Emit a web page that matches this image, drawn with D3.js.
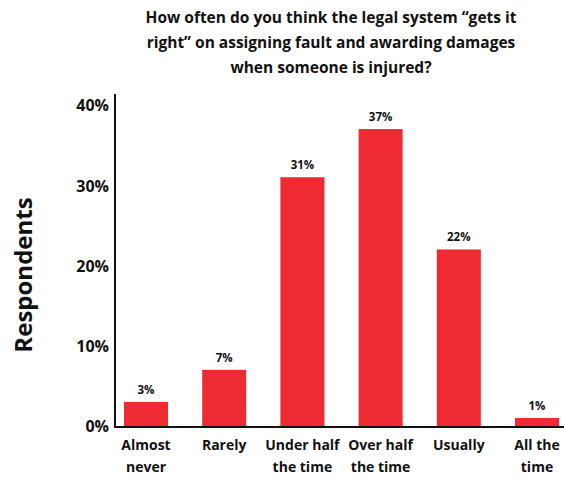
<!DOCTYPE html>
<html>
<head>
<meta charset="utf-8">
<script src="https://cdn.jsdelivr.net/npm/d3@7"></script>
<style>
  html, body { margin: 0; padding: 0; background: #fff; }
  svg { display: block; font-family: "Open Sans", Lato, sans-serif; }
</style>
</head>
<body>
<svg id="chart" width="564" height="477"></svg>
<script>
// Survey answers and share of respondents (%)
const categories = [["Almost", "never"], ["Rarely"], ["Under half", "the time"], ["Over half", "the time"], ["Usually"], ["All the", "time"]];
const values = [3, 7, 31, 37, 22, 1];
const yTicks = [0, 10, 20, 30, 40];
const titleLines = [
  "How often do you think the legal system \u201cgets it",
  "right\u201d on assigning fault and awarding damages",
  "when someone is injured?"
];
const yLabel = "Respondents";

const svg = d3.select("#chart");
const ink = "#111";
const red = "#ee2a33";
const font = "'Open Sans', Lato, sans-serif";

const x = d3.scaleBand()
  .domain(categories.map((d, i) => i))
  .range([115, 568])
  .paddingInner(0.437)
  .paddingOuter(0.115);

const y = d3.scaleLinear().domain([0, 40]).range([426, 105]);

// Title
svg.append("text")
  .attr("x", 331)
  .attr("y", 23)
  .attr("text-anchor", "middle")
  .attr("fill", ink)
  .style("font-size", "15.5px")
  .style("font-weight", 700)
  .selectAll("tspan")
  .data(titleLines)
  .join("tspan")
  .attr("x", 331)
  .attr("dy", (d, i) => i === 0 ? 0 : 25)
  .text(d => d);

// Y axis label
svg.append("text")
  .attr("transform", "translate(32,275) rotate(-90)")
  .attr("text-anchor", "middle")
  .attr("fill", ink)
  .style("font-size", "24px")
  .style("font-weight", 700)
  .text(yLabel);

// Bars
svg.append("g")
  .selectAll("rect")
  .data(values)
  .join("rect")
  .attr("x", (d, i) => x(i))
  .attr("width", x.bandwidth())
  .attr("y", d => y(d))
  .attr("height", d => y(0) - y(d))
  .attr("fill", red);

// Value labels
svg.append("g")
  .selectAll("text")
  .data(values)
  .join("text")
  .attr("x", (d, i) => x(i) + x.bandwidth() / 2)
  .attr("y", d => y(d) - 8)
  .attr("text-anchor", "middle")
  .attr("fill", ink)
  .style("font-size", "11.5px")
  .style("font-weight", 700)
  .text(d => d + "%");

// Y axis
const yAxis = svg.append("g")
  .attr("transform", "translate(115,0)")
  .call(d3.axisLeft(y).tickValues(yTicks).tickSize(0).tickPadding(6).tickFormat(d => d + "%"));
yAxis.select(".domain").attr("stroke", ink).attr("stroke-width", 2).attr("d", "M0,94V427");
yAxis.selectAll("text")
  .attr("fill", ink)
  .attr("dy", "0.36em")
  .style("font-family", font)
  .style("font-size", "16px")
  .style("font-weight", 700);

// X axis
const xAxis = svg.append("g")
  .attr("transform", "translate(0,427)")
  .call(d3.axisBottom(x).tickSize(0).tickFormat(""));
xAxis.select(".domain").attr("stroke", ink).attr("stroke-width", 2).attr("d", "M114,0H564");

const xl = svg.append("g")
  .selectAll("text")
  .data(categories)
  .join("text")
  .attr("x", (d, i) => x(i) + x.bandwidth() / 2)
  .attr("y", 450)
  .attr("text-anchor", "middle")
  .attr("fill", ink)
  .style("font-size", "14px")
  .style("font-weight", 700);
xl.selectAll("tspan")
  .data(d => d)
  .join("tspan")
  .attr("x", function () { return d3.select(this.parentNode).attr("x"); })
  .attr("dy", (d, i) => i === 0 ? 0 : 22)
  .text(d => d);
</script>
</body>
</html>
